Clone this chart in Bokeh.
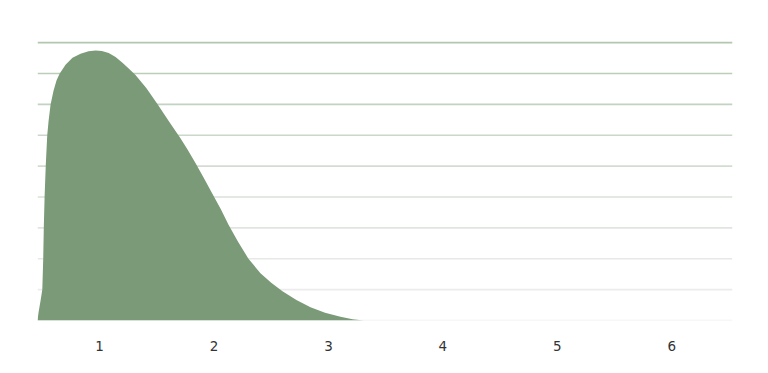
from bokeh.plotting import figure
from bokeh.models import Range1d, FixedTicker, Span, ColumnDataSource
from bokeh.embed import file_html
from bokeh.resources import INLINE

# density curve
xs = [0.458, 0.467, 0.485, 0.50, 0.508, 0.513, 0.520, 0.530, 0.543, 0.555, 0.572,
      0.598, 0.624, 0.651, 0.703, 0.764, 0.834, 0.904, 0.965, 1.02, 1.08, 1.14, 1.20,
      1.25, 1.314, 1.41, 1.507, 1.61, 1.707, 1.77, 1.838, 1.91, 1.987, 2.06, 2.127, 2.21,
      2.301, 2.406, 2.50, 2.598, 2.72, 2.843, 2.97, 3.105, 3.21, 3.306, 4.0, 5.0, 6.0, 6.53]
ys = [0.0, 0.026, 0.065, 0.10, 0.20, 0.30, 0.40, 0.50, 0.60, 0.647, 0.699,
      0.744, 0.777, 0.799, 0.828, 0.851, 0.864, 0.872, 0.874, 0.873, 0.866, 0.853, 0.835,
      0.818, 0.795, 0.752, 0.70, 0.643, 0.59, 0.553, 0.51, 0.462, 0.41, 0.36, 0.31, 0.255,
      0.20, 0.153, 0.122, 0.095, 0.066, 0.043, 0.025, 0.012, 0.004, 0.0, 0.0, 0.0, 0.0, 0.0]

grid_values = [0.0, 0.1, 0.2, 0.3, 0.4, 0.5, 0.6, 0.7, 0.8, 0.9]
grid_colors = ["#efefef", "#ebeceb", "#e6e9e6", "#e0e5df", "#dae1d9",
               "#d3dcd1", "#cbd7c9", "#c4d2c1", "#bccdb8", "#b3c6ae"]
x_ticks = [1, 2, 3, 4, 5, 6]

src = ColumnDataSource(dict(x=xs, y=ys, y0=[0.0] * len(xs)))

p = figure(width=760, height=365, output_backend="svg", toolbar_location=None,
           x_range=Range1d(0.458, 6.53), y_range=Range1d(0, 0.91),
           min_border_left=37, min_border_right=28, min_border_top=39, min_border_bottom=45)
p.outline_line_color = None
p.background_fill_color = "white"
p.border_fill_color = "white"
p.xgrid.visible = False
p.ygrid.visible = False
p.yaxis.visible = False

for v, c in zip(grid_values, grid_colors):
    p.add_layout(Span(location=v, dimension="width", line_color=c, line_width=1.6, level="underlay"))

p.varea(x="x", y1="y0", y2="y", source=src, fill_color="#7a9a78", fill_alpha=1.0)

ax = p.xaxis[0]
ax.ticker = FixedTicker(ticks=x_ticks)
ax.axis_line_color = None
ax.major_tick_line_color = None
ax.minor_tick_line_color = None
ax.major_label_text_font = "DejaVu Sans"
ax.major_label_text_font_size = "13.5px"
ax.major_label_text_color = "#333333"
ax.major_label_standoff = 14

open("out.html", "w").write(file_html(p, INLINE))
